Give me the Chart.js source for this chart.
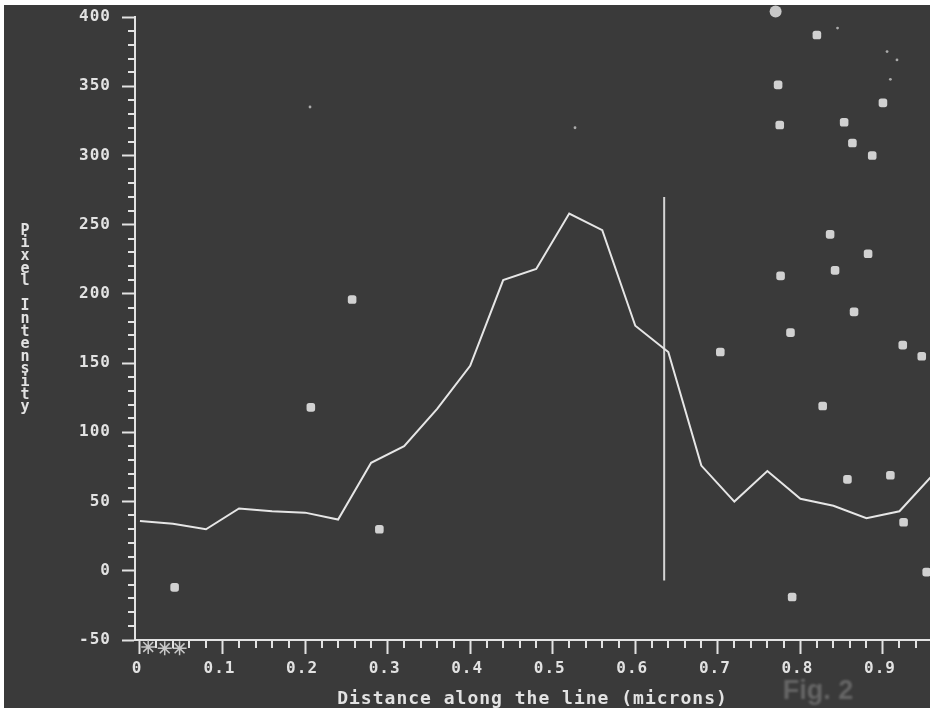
<!DOCTYPE html>
<html>
<head>
<meta charset="utf-8">
<title>Fig. 2</title>
<script src="https://cdn.jsdelivr.net/npm/chart.js@4.4.0/dist/chart.umd.min.js"></script>
<style>
  html, body { margin: 0; padding: 0; background: #fff; }
  #wrap { width: 930px; height: 708px; }
</style>
</head>
<body>
<div id="wrap"><canvas id="profileChart" width="930" height="708"></canvas></div>
<script>
// Line profile (distance in microns, pixel intensity)
const distance = [0, 0.04, 0.08, 0.12, 0.16, 0.2, 0.24, 0.28, 0.32, 0.36, 0.4, 0.44, 0.48,
  0.52, 0.56, 0.6, 0.64, 0.68, 0.72, 0.76, 0.8, 0.84, 0.88, 0.92, 0.96]
const intensity = [36, 34, 30, 45, 43, 42, 37, 78, 90, 117, 148, 210, 218,
  258, 246, 177, 158, 76, 50, 72, 52, 47, 38, 43, 69]

// Cursor line
const cursorX = [0.635, 0.635]
const cursorY = [270, -7]

// Bright spots / noise in the scan
const spotX = [0.042, 0.257, 0.207, 0.290, 0.703, 0.836, 0.882, 0.776, 0.842, 0.865, 0.788, 0.924,
  0.947, 0.827, 0.857, 0.909, 0.925, 0.953, 0.790, 0.820, 0.773, 0.775, 0.853, 0.900, 0.863, 0.887]
const spotY = [-12, 196, 118, 30, 158, 243, 229, 213, 217, 187, 172, 163,
  155, 119, 66, 69, 35, -1, -19, 387, 351, 322, 324, 338, 309, 300]
const speckX = [0.206, 0.527, 0.905, 0.917, 0.909, 0.845]
const speckY = [335, 320, 375, 369, 355, 392]
const edgeX = [0.770]
const edgeY = [404]

// Star marks near the origin
const starX = [0.01, 0.03, 0.048]
const starY = [-55, -56, -56]

// Axes
const xTicks = [0, 0.1, 0.2, 0.3, 0.4, 0.5, 0.6, 0.7, 0.8, 0.9]
const yTicks = [-50, 0, 50, 100, 150, 200, 250, 300, 350, 400]
const xTitle = "Distance along the line (microns)"
const yTitle = "Pixel Intensity"
const figLabel = "Fig. 2"

const ink = "#e2e2e2"
const mono = "'DejaVu Sans Mono', monospace"

const toPoints = (xs, ys) => xs.map((x, i) => ({ x: x, y: ys[i] }))

// Scanned paper look: white margin, dark screen, letter spacing for the pixel font
const scanBackground = {
  id: "scanBackground",
  beforeUpdate(chart) {
    chart.ctx.letterSpacing = "1px"
  },
  beforeDraw(chart) {
    const ctx = chart.ctx
    ctx.letterSpacing = "1px"
    ctx.save()
    ctx.fillStyle = "#ffffff"
    ctx.fillRect(0, 0, chart.width, chart.height)
    ctx.fillStyle = "#3a3a3a"
    ctx.fillRect(4, 5, chart.width - 4, chart.height - 5)
    ctx.restore()
  },
}

// Short minor ticks between the labelled ones
const minorTicks = {
  id: "minorTicks",
  afterDraw(chart) {
    const ctx = chart.ctx
    const xs = chart.scales.x
    const ys = chart.scales.y
    const area = chart.chartArea
    ctx.save()
    ctx.strokeStyle = ink
    ctx.lineWidth = 2
    ctx.beginPath()
    for (let v = -40; v < 400; v += 10) {
      if (v % 50 === 0) continue
      const py = Math.round(ys.getPixelForValue(v))
      ctx.moveTo(area.left - 7, py)
      ctx.lineTo(area.left, py)
    }
    for (let k = 1; k < 48; k++) {
      if (k % 5 === 0) continue
      const px = Math.round(xs.getPixelForValue(k * 0.02))
      ctx.moveTo(px, area.bottom)
      ctx.lineTo(px, area.bottom + 8)
    }
    ctx.stroke()
    ctx.restore()
  },
}

// Y title written as upright stacked letters, plus the faint figure label
const extraText = {
  id: "extraText",
  afterDraw(chart) {
    const ctx = chart.ctx
    ctx.save()
    ctx.letterSpacing = "0px"
    ctx.fillStyle = ink
    ctx.font = "bold 15px " + mono
    ctx.textAlign = "center"
    ctx.textBaseline = "middle"
    for (let i = 0; i < yTitle.length; i++) {
      ctx.fillText(yTitle[i], 25, 231 + i * 12.6)
    }
    ctx.filter = "blur(1px)"
    ctx.fillStyle = "#666666"
    ctx.font = "bold 27px 'Liberation Sans', sans-serif"
    ctx.fillText(figLabel, 818, 692)
    ctx.restore()
  },
}

document.addEventListener("DOMContentLoaded", () => {
  const ctx = document.getElementById("profileChart").getContext("2d")
  const profileChart = new Chart(ctx, {
    type: "scatter",
    data: {
      datasets: [
        {
          label: "profile",
          data: toPoints(distance, intensity),
          showLine: true,
          borderColor: "#e6e6e6",
          borderWidth: 2,
          pointRadius: 0,
          tension: 0,
        },
        {
          label: "cursor",
          data: toPoints(cursorX, cursorY),
          showLine: true,
          borderColor: "#d4d4d4",
          borderWidth: 2,
          pointRadius: 0,
        },
        {
          label: "spots",
          data: toPoints(spotX, spotY),
          pointStyle: "rectRounded",
          pointRadius: 5,
          backgroundColor: "rgba(236, 236, 236, 0.85)",
          borderWidth: 0,
          clip: false,
        },
        {
          label: "edge",
          data: toPoints(edgeX, edgeY),
          pointRadius: 6,
          backgroundColor: "rgba(235, 235, 235, 0.8)",
          borderWidth: 0,
          clip: false,
        },
        {
          label: "specks",
          data: toPoints(speckX, speckY),
          pointRadius: 1.4,
          backgroundColor: "rgba(220, 220, 220, 0.7)",
          borderWidth: 0,
        },
        {
          label: "stars",
          data: toPoints(starX, starY),
          pointStyle: "star",
          pointRadius: 7,
          borderColor: "#c8c8c8",
          borderWidth: 1.5,
          backgroundColor: "transparent",
          clip: false,
        },
      ],
    },
    options: {
      responsive: false,
      animation: false,
      layout: { autoPadding: false, padding: { top: 17, right: 0, left: 0, bottom: 0 } },
      plugins: {
        legend: { display: false },
        tooltip: { enabled: false },
      },
      scales: {
        x: {
          type: "linear",
          position: "bottom",
          min: -0.006,
          max: 0.957,
          afterFit: (scale) => {
            scale.height = 68
            scale.paddingLeft = 0
            scale.paddingRight = 0
          },
          afterBuildTicks: (scale) => { scale.ticks = xTicks.map((v) => ({ value: v })) },
          ticks: {
            color: ink,
            font: { family: mono, size: 16, weight: "bold" },
            padding: 5,
            maxRotation: 0,
            autoSkip: false,
            labelOffset: -3,
            callback: (v) => (v === 0 ? "0" : v.toFixed(1)),
          },
          grid: { drawOnChartArea: false, tickLength: 14, tickColor: ink, tickWidth: 2 },
          border: { color: ink, width: 2 },
          title: {
            display: true,
            text: xTitle,
            color: ink,
            font: { family: mono, size: 18, weight: "bold", lineHeight: 1 },
            padding: 0,
          },
        },
        y: {
          type: "linear",
          min: -50,
          max: 400,
          afterFit: (scale) => {
            scale.width = 135
            scale.paddingTop = 0
            scale.paddingBottom = 0
          },
          afterBuildTicks: (scale) => { scale.ticks = yTicks.map((v) => ({ value: v })) },
          ticks: {
            color: ink,
            font: { family: mono, size: 16, weight: "bold" },
            padding: 11,
          },
          grid: { drawOnChartArea: false, tickLength: 13, tickColor: ink, tickWidth: 2 },
          border: { color: ink, width: 2 },
        },
      },
    },
    plugins: [scanBackground, minorTicks, extraText],
  })
})
</script>
</body>
</html>
